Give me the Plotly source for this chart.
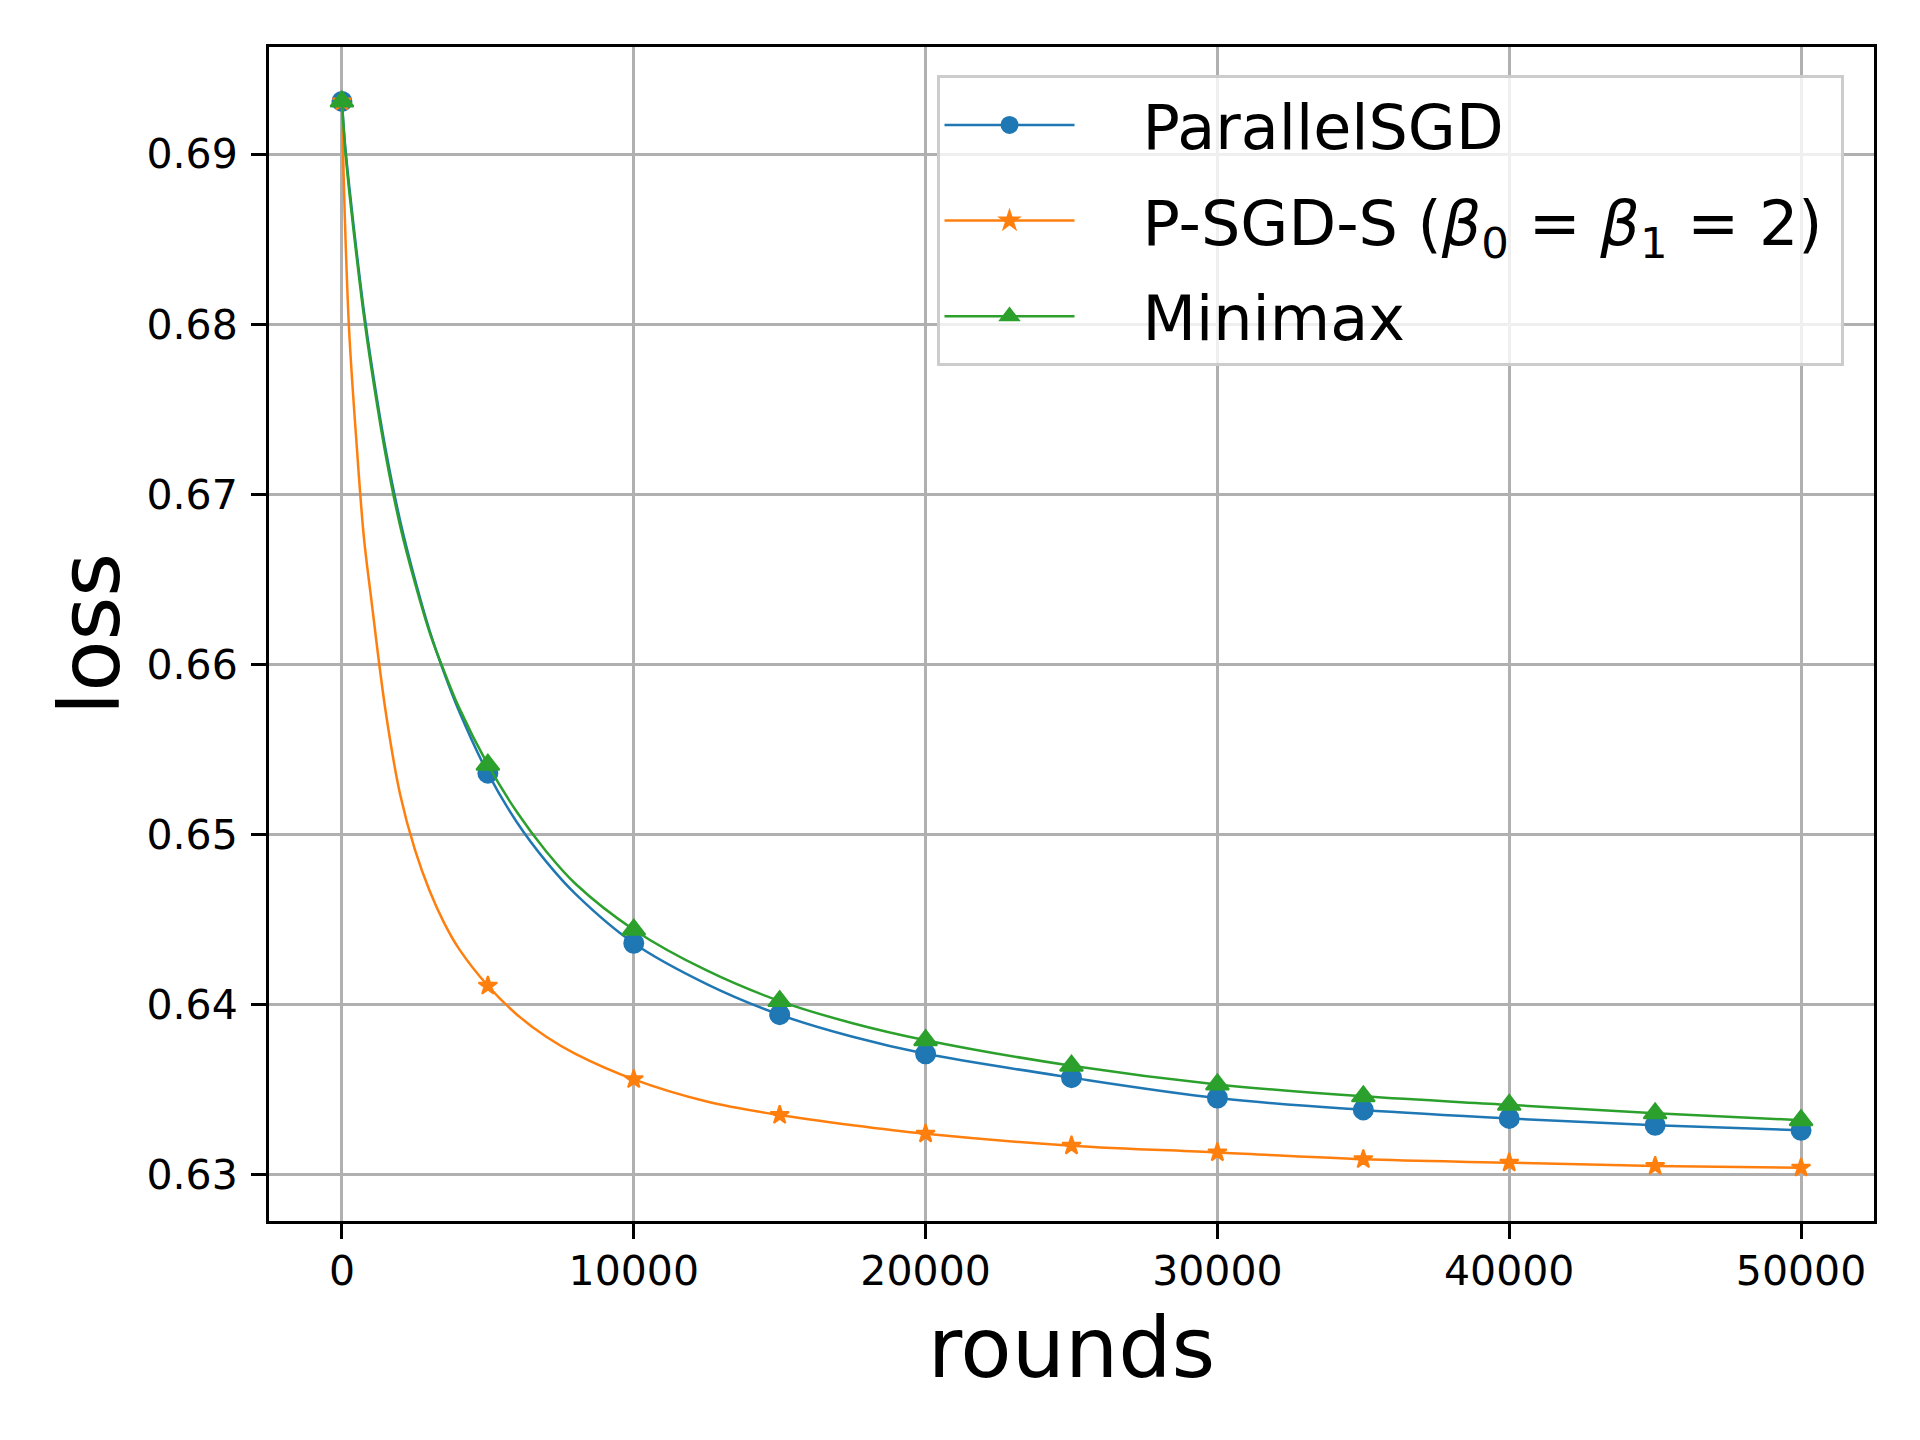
import plotly.graph_objects as go

# values
rounds = [0, 100, 250, 500, 750, 1000, 1500, 2000, 2500, 3000, 3500, 4000,
          5000, 6000, 7000, 8000, 10000, 12500, 15000, 17500, 20000,
          25000, 30000, 35000, 40000, 45000, 50000]

parallel_sgd = [0.6931, 0.6907, 0.6881, 0.6843, 0.6808, 0.6778, 0.6726, 0.6684,
                0.6650, 0.6620, 0.6595, 0.6573, 0.6536, 0.6507, 0.6484, 0.6465,
                0.6436, 0.6412, 0.6394, 0.6381, 0.6371, 0.6357, 0.6345, 0.6338,
                0.6333, 0.6329, 0.6326]

psgd_s = [0.6931, 0.6862, 0.6795, 0.6730, 0.6675, 0.6639, 0.6572, 0.6523,
          0.6491, 0.6467, 0.6448, 0.6433, 0.6411, 0.6394, 0.6381, 0.6371,
          0.6356, 0.6343, 0.6335, 0.6329, 0.6324, 0.6317, 0.6313, 0.6309,
          0.6307, 0.6305, 0.6304]

minimax = [0.6931, 0.6905, 0.6878, 0.6840, 0.6805, 0.6775, 0.6723, 0.6681,
           0.6648, 0.6619, 0.6596, 0.6575, 0.6541, 0.6513, 0.6490, 0.6471,
           0.6444, 0.6420, 0.6402, 0.6389, 0.6379, 0.6364, 0.6353, 0.6346,
           0.6341, 0.6336, 0.6332]

x_ticks = [0, 10000, 20000, 30000, 40000, 50000]
y_ticks = [0.63, 0.64, 0.65, 0.66, 0.67, 0.68, 0.69]

GAP = "\u2002\u00a0\u2009"
series = [
    ("ParallelSGD", parallel_sgd, "#1f77b4", "circle", 19),
    ("P-SGD-S (<i>β</i><sub>0</sub> = <i>β</i><sub>1</sub> = 2)\u2009", psgd_s, "#ff7f0e", "star", 14),
    ("Minimax", minimax, "#2ca02c", "triangle-up", 20),
]

FONT = "DejaVu Sans"

fig = go.Figure()
for i, (name, vals, color, symbol, msize) in enumerate(series):
    # smooth curve
    fig.add_trace(go.Scatter(
        x=rounds, y=vals, mode="lines", showlegend=False,
        line=dict(color=color, width=2.5, shape="spline", smoothing=1),
        hoverinfo="skip", legendgroup=str(i)))
    # markers every 5000 rounds (gaps so no straight segments are drawn)
    mx, my = [], []
    for r, v in zip(rounds, vals):
        if r % 5000 == 0:
            mx += [r, None]
            my += [v, None]
    fig.add_trace(go.Scatter(
        x=mx, y=my, mode="lines+markers", name=GAP + name, connectgaps=False,
        line=dict(color=color, width=2.5),
        marker=dict(color=color, symbol=symbol, size=msize,
                    line=dict(width=2, color=color)),
        legendgroup=str(i)))

axis_common = dict(
    showgrid=True, gridcolor="#b0b0b0", gridwidth=2.7,
    showline=True, linecolor="black", linewidth=3, mirror=True,
    ticks="outside", ticklen=15, tickwidth=3, tickcolor="black",
    tickfont=dict(family=FONT, size=41, color="black"),
    zeroline=False,
)

fig.update_layout(
    width=1920, height=1440,
    margin=dict(l=261, r=54, t=39, b=227),
    paper_bgcolor="white", plot_bgcolor="white",
    font=dict(family=FONT, color="black"),
    xaxis=dict(range=[-2500, 52500], tickvals=x_ticks,
               ticktext=[str(t) for t in x_ticks],
               title=dict(text="rounds", font=dict(family=FONT, size=84), standoff=24),
               ticklabelstandoff=-3, **axis_common),
    yaxis=dict(range=[0.62727, 0.69630], tickvals=y_ticks,
               ticktext=[f"{t:.2f}" for t in y_ticks],
               title=dict(text="loss", font=dict(family=FONT, size=84), standoff=0),
               ticklabelstandoff=5, **axis_common),
    legend=dict(x=0.981, y=0.976, xanchor="right", yanchor="top",
                bgcolor="rgba(255,255,255,0.8)", bordercolor="#cccccc",
                borderwidth=3, font=dict(family=FONT, size=62, color="black"),
                itemwidth=130, tracegroupgap=12),
    showlegend=True,
)

fig.write_html("out.html")
